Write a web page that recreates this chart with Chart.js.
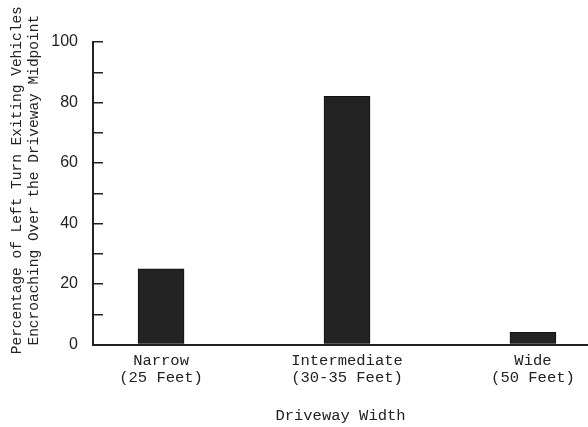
<!DOCTYPE html>
<html>
<head>
<meta charset="utf-8">
<script src="https://cdn.jsdelivr.net/npm/chart.js@4"></script>
<style>
  html, body { margin: 0; padding: 0; background: #fff; }
  #wrap { width: 588px; height: 427px; }
</style>
</head>
<body>
<div id="wrap"><canvas id="widthChart"></canvas></div>
<script>
const categories = [["Narrow", "(25 Feet)"], ["Intermediate", "(30-35 Feet)"], ["Wide", "(50 Feet)"]];
const percentEncroaching = [25, 82, 4];
const yTicks = [0, 20, 40, 60, 80, 100];

const ink = '#222';
const mono = "'Liberation Mono', 'DejaVu Sans Mono', monospace";

const ctx = document.getElementById('widthChart').getContext('2d');
new Chart(ctx, {
    type: 'bar',
    data: {
        datasets: [{
            data: percentEncroaching.map((v, i) => ({ x: i, y: v })),
            backgroundColor: '#232323',
            borderColor: '#111',
            borderWidth: 1,
            barThickness: 46
        }]
    },
    options: {
        responsive: true,
        maintainAspectRatio: false,
        animation: false,
        layout: { padding: { top: 42, left: 1, right: 0, bottom: 0 } },
        plugins: { legend: { display: false }, tooltip: { enabled: false } },
        scales: {
            x: {
                type: 'linear',
                offset: false,
                min: -0.366,
                max: 2.296,
                afterBuildTicks: s => { s.ticks = categories.map((c, i) => ({ value: i })); },
                grid: { display: false, drawTicks: false },
                border: { display: true, color: ink, width: 2 },
                ticks: {
                    color: ink,
                    padding: 7,
                    maxRotation: 0,
                    autoSkip: false,
                    font: { family: mono, size: 15.5, lineHeight: 1.15 },
                    callback: v => categories[v]
                },
                title: {
                    display: true,
                    text: 'Driveway Width',
                    color: ink,
                    font: { family: mono, size: 15.5, lineHeight: 1.15 },
                    padding: { top: 13, bottom: 2 }
                }
            },
            y: {
                min: 0,
                max: 100,
                afterFit: s => { s.width = 92; },
                grid: { drawOnChartArea: false, drawTicks: true, tickLength: -10, color: ink, lineWidth: 1.5 },
                border: { display: true, color: ink, width: 2 },
                ticks: {
                    stepSize: 10,
                    padding: 25,
                    color: ink,
                    font: { family: "'Liberation Sans', Arial, sans-serif", size: 16 },
                    callback: v => yTicks.includes(v) ? v : ''
                },
                title: {
                    display: true,
                    text: ['   Percentage of Left Turn Exiting Vehicles', '   Encroaching Over the Driveway Midpoint'],
                    color: ink,
                    font: { family: mono, size: 14.5, lineHeight: 1.2 },
                    padding: { top: 7, bottom: 7 }
                }
            }
        }
    }
});
</script>
</body>
</html>
